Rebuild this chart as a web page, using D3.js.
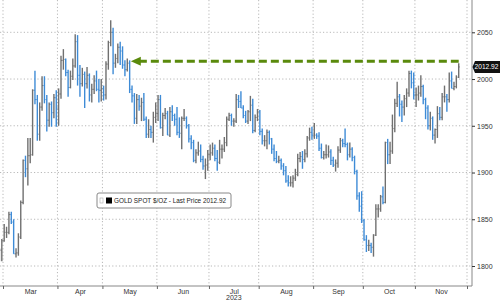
<!DOCTYPE html>
<html>
<head>
<meta charset="utf-8">
<script src="https://cdn.jsdelivr.net/npm/d3@7"></script>
<style>
body { margin: 0; background: #fff; }
svg { display: block; font-family: "Liberation Sans", Arial, sans-serif; }
</style>
</head>
<body>
<div id="chart"></div>
<script>
// month labels and trading days per month (Mar..Nov 2023)
const months = ["Mar", "Apr", "May", "Jun", "Jul", "Aug", "Sep", "Oct", "Nov"];
const monthDays = [23, 19, 23, 22, 21, 23, 21, 22, 22];
const leadDays = 2; // Feb 27, Feb 28
const yearLabel = "2023";
const yTicks = [1800, 1850, 1900, 1950, 2000, 2050];

// daily OHLC, Feb 27 .. Nov 27
const opens = [1811,1817,
1827,1836,1836,1855,1847,1813,1814,1831,1868,1913,1904,1918,1919,1988,1978,1941,1970,1993,1978,1956,1973,1964,1980,
1969,1984,2020,2021,2007,1991,2003,2014,2040,2004,1995,2005,1995,2004,1983,1989,1998,1989,1988,
1990,1983,2016,2039,2050,2017,2022,2034,2030,2015,2010,2017,1989,1982,1958,1978,1971,1975,1957,1941,1946,1943,1959,
1963,1978,1948,1961,1963,1940,1965,1961,1957,1943,1942,1958,1958,1950,1936,1932,1913,1921,1923,1914,1907,1908,
1919,1921,1926,1915,1911,1925,1925,1932,1957,1961,1955,1955,1978,1976,1969,1961,1955,1965,1972,1945,1959,
1965,1944,1934,1934,1943,1936,1925,1915,1912,1913,1907,1902,1891,1889,1889,1894,1898,1915,1917,1914,1920,1937,1943,
1940,1940,1939,1926,1916,1919,1919,1922,1913,1908,1910,1924,1934,1931,1930,1919,1925,1916,1901,1875,1864,
1849,1828,1822,1822,1820,1833,1861,1861,1874,1868,1932,1919,1923,1947,1974,1981,1973,1970,1979,1985,2006,1996,
1983,1983,1985,1992,1978,1969,1950,1958,1940,1946,1963,1959,1981,1981,1978,1998,1990,1992,2002];
const highs = [1819,1829,
1845,1842,1858,1858,1850,1819,1835,1870,1914,1918,1937,1937,1989,2009,1983,1975,2003,2003,1983,1975,1976,1984,1988,
1990,2025,2032,2022,2010,2009,2022,2048,2047,2015,2012,2008,2013,2006,1995,2004,2009,2000,2000,
1993,2019,2041,2063,2055,2027,2038,2040,2035,2020,2022,2020,1993,1985,1984,1983,1980,1985,1960,1957,1950,1965,1975,
1983,1983,1964,1969,1966,1970,1972,1963,1970,1959,1960,1968,1960,1952,1940,1935,1925,1933,1930,1918,1915,1924,
1930,1932,1930,1924,1935,1930,1938,1960,1964,1963,1958,1984,1983,1987,1972,1966,1967,1982,1979,1962,1968,
1967,1947,1940,1946,1945,1937,1930,1923,1918,1915,1910,1907,1897,1896,1897,1904,1920,1922,1923,1925,1939,1948,1949,
1953,1942,1943,1931,1923,1930,1929,1925,1917,1914,1928,1937,1936,1947,1932,1932,1927,1918,1903,1879,1880,
1850,1833,1828,1825,1834,1866,1866,1876,1885,1933,1936,1933,1962,1979,1997,1984,1977,1983,1990,2009,2009,2007,
1991,1993,2004,1994,1980,1972,1965,1960,1947,1971,1970,1985,1993,1984,2007,2008,1997,2004,2017];
const lows = [1805,1805,
1826,1830,1834,1845,1813,1809,1811,1829,1866,1895,1886,1910,1918,1973,1934,1934,1966,1974,1944,1949,1949,1958,1949,
1950,1979,2010,2003,1981,1990,1999,2012,1993,1981,1992,1969,1990,1976,1975,1984,1987,1975,1976,
1977,1978,2010,2035,2005,2012,2017,2015,2011,2003,2008,1985,1975,1952,1952,1966,1955,1955,1937,1937,1937,1932,1953,
1955,1947,1939,1957,1940,1938,1955,1950,1940,1937,1925,1955,1947,1932,1925,1911,1910,1918,1911,1903,1893,1902,
1913,1918,1912,1902,1909,1915,1922,1928,1955,1950,1949,1953,1969,1969,1958,1953,1952,1955,1942,1943,1955,
1940,1930,1928,1925,1930,1920,1912,1910,1910,1903,1897,1889,1885,1885,1884,1891,1896,1911,1904,1911,1916,1934,1935,
1936,1936,1923,1915,1914,1915,1916,1908,1906,1901,1905,1921,1927,1927,1913,1916,1912,1898,1871,1858,1846,
1827,1815,1816,1814,1810,1832,1852,1858,1866,1867,1909,1909,1920,1943,1970,1960,1954,1961,1970,1981,1990,1978,
1970,1977,1981,1973,1957,1946,1945,1935,1931,1937,1956,1956,1975,1965,1975,1990,1988,1990,2001];
const closes = [1817,1827,
1836,1836,1855,1847,1813,1814,1831,1868,1913,1904,1918,1919,1988,1978,1941,1970,1993,1978,1956,1973,1964,1980,1969,
1984,2020,2021,2007,1991,2003,2014,2040,2004,1995,2005,1995,2004,1983,1989,1998,1989,1988,1990,
1983,2016,2039,2050,2017,2022,2034,2030,2015,2010,2017,1989,1982,1958,1978,1971,1975,1957,1941,1946,1943,1959,1963,
1978,1948,1961,1963,1940,1965,1961,1957,1943,1942,1958,1958,1950,1936,1932,1913,1921,1923,1914,1907,1908,1919,
1921,1926,1915,1911,1925,1925,1932,1957,1961,1955,1955,1978,1976,1969,1961,1955,1965,1972,1945,1959,1965,
1944,1934,1934,1943,1936,1925,1915,1912,1913,1907,1902,1891,1889,1889,1894,1898,1915,1917,1914,1920,1937,1943,1940,
1940,1939,1926,1916,1919,1919,1922,1913,1908,1910,1924,1934,1931,1930,1919,1925,1916,1901,1875,1864,1849,
1828,1822,1822,1820,1833,1861,1861,1874,1868,1932,1919,1923,1947,1974,1981,1973,1970,1979,1985,2006,1996,1983,
1983,1985,1992,1978,1969,1950,1958,1940,1946,1963,1959,1981,1981,1978,1998,1990,1992,2002,2012.92];

const seriesName = "GOLD SPOT $/OZ - Last Price";
const lastPrice = 2012.92;
// dashed arrow: level and day index where it points back to
const arrowLevel = 2019;
const arrowFrom = 55.5;

const width = 500, height = 302;
const plot = { left: 0, right: 472, top: 0, bottom: 286 };

const svg = d3.select("#chart").append("svg")
  .attr("width", width)
  .attr("height", height);

// boundaries between months in day-index units
let bounds = [leadDays - 0.5];
monthDays.forEach(function(n, i) { bounds.push(bounds[i] + n); });
let centers = months.map(function(m, i) { return (bounds[i] + bounds[i + 1]) / 2; });

const x = d3.scaleLinear()
  .domain([bounds[0], bounds[bounds.length - 1]])
  .range([3, 467]);

const y = d3.scaleLinear()
  .domain([1800, 2050])
  .range([266, 32.3]);

// grid
svg.append("g").selectAll("line")
  .data(yTicks)
  .enter().append("line")
    .attr("x1", plot.left).attr("x2", plot.right)
    .attr("y1", function(d) { return y(d); }).attr("y2", function(d) { return y(d); })
    .attr("stroke", "#b8b8b8").attr("stroke-dasharray", "1.2,2.2");

svg.append("g").selectAll("line")
  .data(bounds)
  .enter().append("line")
    .attr("x1", function(d) { return x(d); }).attr("x2", function(d) { return x(d); })
    .attr("y1", plot.top).attr("y2", plot.bottom)
    .attr("stroke", "#b8b8b8").attr("stroke-dasharray", "1.2,2.2");

// OHLC bars
const bars = svg.append("g").selectAll("g")
  .data(closes.map(function(c, i) { return { i: i, o: opens[i], h: highs[i], l: lows[i], c: c }; }))
  .enter().append("g")
    .attr("stroke", function(d) { return d.c < d.o ? "#3e8bd6" : "#707070"; });

bars.append("line")
  .attr("x1", function(d) { return x(d.i); }).attr("x2", function(d) { return x(d.i); })
  .attr("y1", function(d) { return y(d.h); }).attr("y2", function(d) { return y(d.l); })
  .attr("stroke-width", 1.4);
bars.append("line")
  .attr("x1", function(d) { return x(d.i) - 1; }).attr("x2", function(d) { return x(d.i); })
  .attr("y1", function(d) { return y(d.o); }).attr("y2", function(d) { return y(d.o); })
  .attr("stroke-width", 1);
bars.append("line")
  .attr("x1", function(d) { return x(d.i); }).attr("x2", function(d) { return x(d.i) + 1; })
  .attr("y1", function(d) { return y(d.c); }).attr("y2", function(d) { return y(d.c); })
  .attr("stroke-width", 1);

// green dashed arrow
const arrowY = y(arrowLevel);
const arrowX0 = x(arrowFrom), arrowX1 = x(closes.length - 1);
svg.append("line")
  .attr("x1", arrowX0 + 8).attr("x2", arrowX1)
  .attr("y1", arrowY).attr("y2", arrowY)
  .attr("stroke", "#5a8a0c").attr("stroke-width", 3)
  .attr("stroke-dasharray", "8,4");
svg.append("path")
  .attr("d", "M" + arrowX0 + "," + arrowY + "L" + (arrowX0 + 10) + "," + (arrowY - 4.5) +
             "L" + (arrowX0 + 10) + "," + (arrowY + 4.5) + "Z")
  .attr("fill", "#5a8a0c");

// axes
svg.append("line")
  .attr("x1", plot.left).attr("x2", plot.right)
  .attr("y1", plot.bottom).attr("y2", plot.bottom)
  .attr("stroke", "#888");
svg.append("line")
  .attr("x1", plot.right).attr("x2", plot.right)
  .attr("y1", plot.top).attr("y2", plot.bottom)
  .attr("stroke", "#888");

const yAxis = svg.append("g")
  .attr("transform", "translate(" + plot.right + ",0)")
  .call(d3.axisRight(y).tickValues(yTicks).tickSize(3).tickPadding(2).tickFormat(d3.format("d")));
yAxis.select(".domain").remove();
yAxis.selectAll("line").attr("stroke", "#333");
yAxis.selectAll("text").attr("font-size", 7).attr("fill", "#333")
  .attr("font-family", "Liberation Sans, Arial, sans-serif");

const xTickAxis = svg.append("g")
  .attr("transform", "translate(0," + plot.bottom + ")")
  .call(d3.axisBottom(x).tickValues(bounds).tickSize(3).tickFormat(""));
xTickAxis.select(".domain").remove();
xTickAxis.selectAll("line").attr("stroke", "#666");

const xLabelAxis = svg.append("g")
  .attr("transform", "translate(0," + plot.bottom + ")")
  .call(d3.axisBottom(x).tickValues(centers).tickSize(0).tickPadding(3)
    .tickFormat(function(d, i) { return months[i]; }));
xLabelAxis.select(".domain").remove();
xLabelAxis.selectAll("text").attr("font-size", 7).attr("fill", "#333")
  .attr("font-family", "Liberation Sans, Arial, sans-serif");

svg.append("text")
  .attr("x", x(centers[4])).attr("y", 300)
  .attr("text-anchor", "middle")
  .attr("font-size", 7).attr("fill", "#333")
  .text(yearLabel);

// last price tag
const tagY = y(lastPrice);
svg.append("path")
  .attr("d", "M" + (plot.right + 0.5) + "," + tagY + "L" + (plot.right + 3) + "," + (tagY - 6) +
             "L500," + (tagY - 6) + "L500," + (tagY + 6) + "L" + (plot.right + 3) + "," + (tagY + 6) + "Z")
  .attr("fill", "#111");
svg.append("text")
  .attr("x", 486.5).attr("y", tagY + 2.4)
  .attr("text-anchor", "middle")
  .attr("font-size", 6.6).attr("fill", "#fff")
  .attr("textLength", 24).attr("lengthAdjust", "spacingAndGlyphs")
  .text(d3.format(".2f")(lastPrice));

// legend
const legend = svg.append("g").attr("transform", "translate(97,193)");
legend.append("rect")
  .attr("width", 134).attr("height", 15).attr("rx", 2)
  .attr("fill", "#fff").attr("stroke", "#888");
legend.append("rect")
  .attr("x", 3).attr("y", 5).attr("width", 3).attr("height", 5)
  .attr("fill", "none").attr("stroke", "#aaa").attr("stroke-width", 0.6);
legend.append("rect")
  .attr("x", 9).attr("y", 4.5).attr("width", 6).attr("height", 6)
  .attr("fill", "#000");
legend.append("text")
  .attr("x", 17).attr("y", 10.3)
  .attr("font-size", 7).attr("fill", "#222")
  .attr("textLength", 112).attr("lengthAdjust", "spacingAndGlyphs")
  .text(seriesName + " " + d3.format(".2f")(lastPrice));
</script>
</body>
</html>
